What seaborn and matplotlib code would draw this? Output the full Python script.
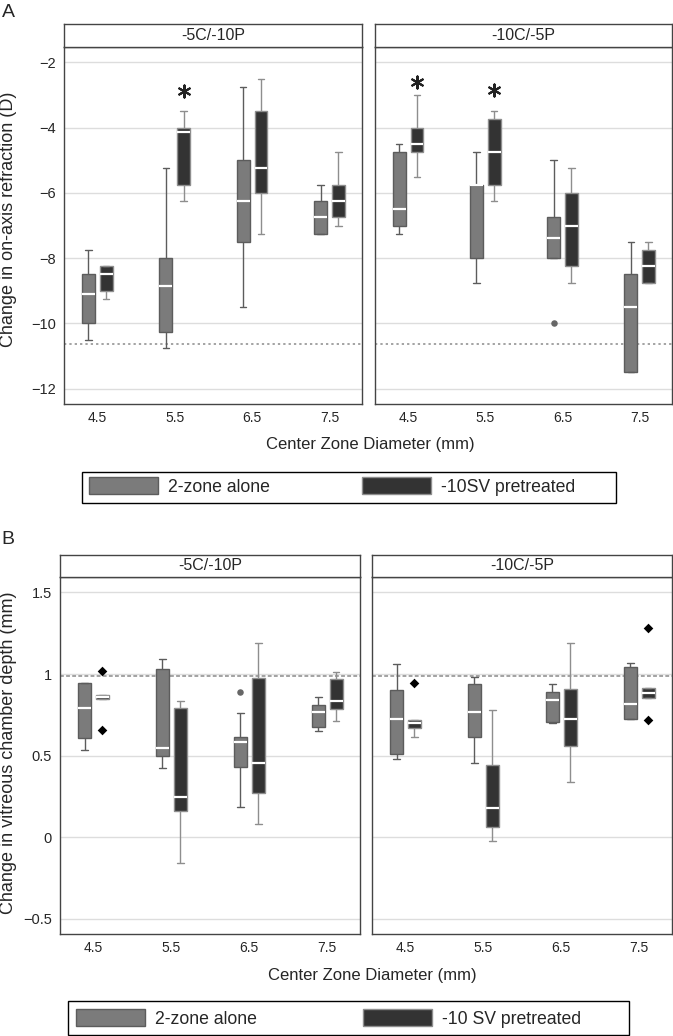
import numpy as np
import pandas as pd
import matplotlib
matplotlib.use('Agg')
import matplotlib.pyplot as plt
from matplotlib.patches import Patch, Rectangle
from matplotlib.ticker import FuncFormatter
import seaborn as sns

# categories
sizes = ['4.5', '5.5', '6.5', '7.5']
facets = ['-5C/-10P', '-10C/-5P']
groups = ['2-zone alone', '-10SV pretreated']

# Panel A: change in on-axis refraction (D)
# each box: [lower whisker, q1, median, q3, upper whisker]
refr_alone_5c10p = [[-10.5, -10.0, -9.1, -8.5, -7.75],
                    [-10.75, -10.25, -8.85, -8.0, -5.25],
                    [-9.5, -7.5, -6.25, -5.0, -2.75],
                    [-7.25, -7.25, -6.75, -6.25, -5.75]]
refr_sv_5c10p = [[-9.25, -9.0, -8.5, -8.25, -8.25],
                 [-6.25, -5.75, -4.12, -4.0, -3.5],
                 [-7.25, -6.0, -5.25, -3.5, -2.5],
                 [-7.0, -6.75, -6.25, -5.75, -4.75]]
refr_alone_10c5p = [[-7.25, -7.0, -6.5, -4.75, -4.5],
                    [-8.75, -8.0, -5.75, -5.75, -4.75],
                    [-8.0, -8.0, -7.38, -6.75, -5.0],
                    [-11.5, -11.5, -9.5, -8.5, -7.5]]
refr_sv_10c5p = [[-5.5, -4.75, -4.5, -4.0, -3.0],
                 [-6.25, -5.75, -4.75, -3.75, -3.5],
                 [-8.75, -8.25, -7.0, -6.0, -5.25],
                 [-8.75, -8.75, -8.25, -7.75, -7.5]]
refr_fliers = [('-10C/-5P', '6.5', '2-zone alone', -10.0)]
refr_stars = [('-5C/-10P', '5.5', -2.87), ('-10C/-5P', '4.5', -2.61), ('-10C/-5P', '5.5', -2.85)]
refr_ref = -10.62
refr_ticks = [-12, -10, -8, -6, -4, -2]

# Panel B: change in vitreous chamber depth (mm)
vcd_alone_5c10p = [[0.535, 0.61, 0.79, 0.945, 0.945],
                   [0.423, 0.50, 0.545, 1.03, 1.092],
                   [0.188, 0.43, 0.582, 0.613, 0.763],
                   [0.651, 0.678, 0.77, 0.812, 0.861]]
vcd_sv_5c10p = [[0.845, 0.845, 0.86, 0.872, 0.872],
                [-0.157, 0.163, 0.249, 0.79, 0.835],
                [0.08, 0.274, 0.453, 0.974, 1.188],
                [0.712, 0.784, 0.835, 0.97, 1.01]]
vcd_alone_10c5p = [[0.48, 0.51, 0.725, 0.90, 1.061],
                   [0.453, 0.616, 0.766, 0.937, 0.984],
                   [0.698, 0.708, 0.841, 0.888, 0.939],
                   [0.723, 0.723, 0.814, 1.045, 1.065]]
vcd_sv_10c5p = [[0.616, 0.671, 0.70, 0.718, 0.718],
                [-0.02, 0.062, 0.182, 0.44, 0.78],
                [0.341, 0.561, 0.723, 0.908, 1.188],
                [0.851, 0.851, 0.886, 0.912, 0.912]]
vcd_fliers = [('-5C/-10P', '4.5', '-10SV pretreated', 1.018),
              ('-5C/-10P', '4.5', '-10SV pretreated', 0.657),
              ('-5C/-10P', '6.5', '2-zone alone', 0.892),
              ('-10C/-5P', '4.5', '-10SV pretreated', 0.943),
              ('-10C/-5P', '7.5', '-10SV pretreated', 1.28),
              ('-10C/-5P', '7.5', '-10SV pretreated', 0.718)]
vcd_ref = 0.99
vcd_ticks = [-0.5, 0, 0.5, 1, 1.5]

legend_a = ['2-zone alone', '-10SV pretreated']
legend_b = ['2-zone alone', '-10 SV pretreated']


def to_long(parts):
    rows = []
    for facet, group, boxes in parts:
        for size, five in zip(sizes, boxes):
            for v in five:
                rows.append({'facet': facet, 'size': size, 'group': group, 'value': v})
    return pd.DataFrame(rows)


refr_df = to_long([(facets[0], groups[0], refr_alone_5c10p), (facets[0], groups[1], refr_sv_5c10p),
                   (facets[1], groups[0], refr_alone_10c5p), (facets[1], groups[1], refr_sv_10c5p)])
vcd_df = to_long([(facets[0], groups[0], vcd_alone_5c10p), (facets[0], groups[1], vcd_sv_5c10p),
                  (facets[1], groups[0], vcd_alone_10c5p), (facets[1], groups[1], vcd_sv_10c5p)])

sns.set_theme(style='white')
plt.rcParams['font.family'] = ['Liberation Sans', 'DejaVu Sans']

W, H = 673, 1036
fig = plt.figure(figsize=(W / 100, H / 100), dpi=100)


def rect(x0, y0, x1, y1):
    return [x0 / W, 1 - y1 / H, (x1 - x0) / W, (y1 - y0) / H]


fill = {groups[0]: '#7b7b7b', groups[1]: '#333333'}
edge = {groups[0]: '#5c5c5c', groups[1]: '#8e8e8e'}
BOX_W = 0.46
GAP = 0.28
minus_fmt = FuncFormatter(lambda v, p: f'{v:g}'.replace('-', '\u2212'))


def draw_facet(ax, df, facet, fliers, stars, ref, ref_ls, ylim, ticks, first):
    sub = df[df['facet'] == facet]
    for g in groups:
        sns.boxplot(data=sub[sub['group'] == g], x='size', y='value', hue='group',
                    order=sizes, hue_order=groups, palette=fill, saturation=1, dodge=True,
                    width=BOX_W, gap=GAP, whis=(0, 100), linecolor=edge[g], linewidth=1,
                    medianprops=dict(color='white', linewidth=1.6),
                    showfliers=False, legend=False, ax=ax)
    for f, size, g, v in fliers:
        if f != facet:
            continue
        x = sizes.index(size) + (-1 if g == groups[0] else 1) * BOX_W / 4
        if g == groups[0]:
            ax.scatter([x], [v], marker='o', s=22, color='#666666', lw=0, zorder=3)
        else:
            ax.scatter([x], [v], marker='D', s=24, color='black', lw=0, zorder=3)
    for f, size, v in stars:
        if f != facet:
            continue
        x = sizes.index(size) + BOX_W / 4
        ax.scatter([x], [v], marker=(6, 2, 0), s=75, color='#222222', lw=1.5, zorder=3)
    ax.axhline(ref, color='#8a8a8a', lw=1.1, ls=ref_ls, zorder=0.8)
    ax.set_xlim(-0.43, 3.42)
    ax.set_ylim(*ylim)
    ax.set_yticks(ticks)
    ax.yaxis.set_major_formatter(minus_fmt)
    ax.yaxis.grid(True, color='#dddddd', lw=1)
    ax.xaxis.grid(False)
    ax.set_axisbelow(True)
    ax.set_xlabel('')
    ax.set_ylabel('')
    ax.tick_params(axis='x', length=0, pad=5, labelsize=10)
    ax.tick_params(axis='y', length=4, width=1, color='#444444', labelsize=10.5, pad=2)
    if not first:
        ax.tick_params(axis='y', left=False, labelleft=False)
    for sp in ax.spines.values():
        sp.set_visible(True)
        sp.set_color('#444444')
        sp.set_linewidth(1)


def draw_strip(x0, y0, x1, y1, title):
    sax = fig.add_axes(rect(x0, y0, x1, y1))
    sax.set_xticks([])
    sax.set_yticks([])
    sax.set_facecolor('white')
    for sp in sax.spines.values():
        sp.set_color('#444444')
        sp.set_linewidth(1)
    sax.text(0.5, 0.5, title, ha='center', va='center', fontsize=11.5, transform=sax.transAxes)


def draw_legend(box, handle_x, handle_y, labels, colspace):
    fig.add_artist(Rectangle((box[0] / W, 1 - box[3] / H), (box[2] - box[0]) / W,
                             (box[3] - box[1]) / H, transform=fig.transFigure,
                             fill=False, ec='black', lw=1))
    handles = [Patch(facecolor=fill[g], edgecolor=edge[g], lw=1) for g in groups]
    fs_px = 12.7 * 100 / 72
    fig.legend(handles, labels, loc='center left', bbox_to_anchor=(handle_x / W, 1 - handle_y / H),
               ncol=2, frameon=False, borderpad=0, borderaxespad=0, fontsize=12.7,
               handlelength=69 / fs_px, handleheight=19 / fs_px, handletextpad=10 / fs_px,
               columnspacing=colspace)


# Panel A
axA1 = fig.add_axes(rect(64, 47, 362, 404))
axA2 = fig.add_axes(rect(375, 47, 672, 404))
draw_facet(axA1, refr_df, facets[0], refr_fliers, refr_stars, refr_ref, (0, (1.5, 2)),
           (-12.47, -1.53), refr_ticks, True)
draw_facet(axA2, refr_df, facets[1], refr_fliers, refr_stars, refr_ref, (0, (1.5, 2)),
           (-12.47, -1.53), refr_ticks, False)
draw_strip(64, 24, 362, 47, facets[0])
draw_strip(375, 24, 672, 47, facets[1])
fig.text(2 / W, 1 - 4 / H, 'A', fontsize=14, ha='left', va='top')
fig.text(8.5 / W, 1 - 219 / H, 'Change in on-axis refraction (D)', rotation=90,
         ha='center', va='center', fontsize=13)
fig.text(370 / W, 1 - 449 / H, 'Center Zone Diameter (mm)', ha='center', va='baseline', fontsize=12)
draw_legend((82, 472, 616, 503), 89, 486.5, legend_a, 5.2)

# Panel B
axB1 = fig.add_axes(rect(60, 577, 360, 934))
axB2 = fig.add_axes(rect(372, 577, 672, 934))
draw_facet(axB1, vcd_df, facets[0], vcd_fliers, [], vcd_ref, (0, (2.5, 1.5)),
           (-0.592, 1.594), vcd_ticks, True)
draw_facet(axB2, vcd_df, facets[1], vcd_fliers, [], vcd_ref, (0, (2.5, 1.5)),
           (-0.592, 1.594), vcd_ticks, False)
draw_strip(60, 555, 360, 577, facets[0])
draw_strip(372, 555, 672, 577, facets[1])
fig.text(1 / W, 1 - 531 / H, 'B', fontsize=14, ha='left', va='top')
fig.text(8.5 / W, 1 - 753 / H, 'Change in vitreous chamber depth (mm)', rotation=90,
         ha='center', va='center', fontsize=13)
fig.text(372 / W, 1 - 980 / H, 'Center Zone Diameter (mm)', ha='center', va='baseline', fontsize=12)
draw_legend((68, 1001, 629, 1035), 76, 1018.5, legend_b, 6.0)

fig.savefig('out.png', dpi=100)
